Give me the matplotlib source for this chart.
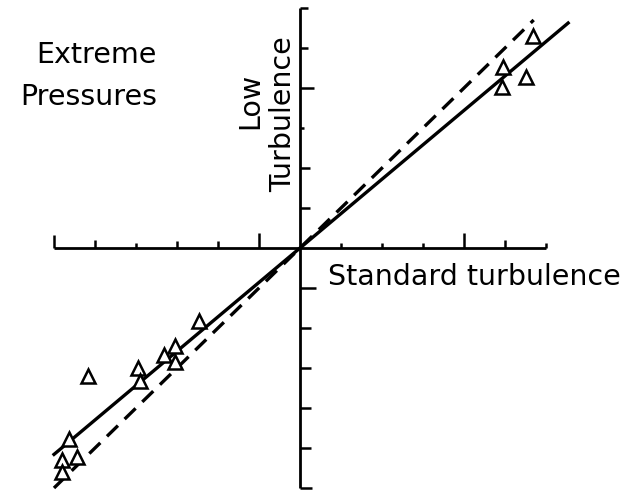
import numpy as np
import matplotlib
matplotlib.use("Agg")
import matplotlib.pyplot as plt

# measured points (standard turbulence vs low turbulence, extreme pressures)
std_turb = [-2.46, -3.05, -3.32, -3.05, -3.95, -3.90, -5.17, -5.63, -5.44, -5.80, -5.80,
            5.68, 4.95, 5.51, 4.93]
low_turb = [-1.83, -2.45, -2.68, -2.85, -3.00, -3.33, -3.20, -4.78, -5.23, -5.30, -5.60,
            5.30, 4.53, 4.28, 4.03]

# fitted line and line of equality
fit_x = [-6.0, 6.54]
fit_slope = 0.86
equal_x = [-6.0, 5.7]

tick_vals = [-6, -5, -4, -3, -2, -1, 1, 2, 3, 4, 5, 6]

fig = plt.figure(figsize=(6.35, 4.94), dpi=100)
ax = fig.add_axes([0, 0, 1, 1])
ax.set_xlim(-300 / 41, 335 / 41)
ax.set_ylim(-246 / 40, 248 / 40)
ax.axis("off")

# pixel -> data helpers for tick lengths
px_x = 1 / 41
px_y = 1 / 40

# axes through origin
ax.plot([-6, 6], [0, 0], color="black", lw=2.0, solid_capstyle="butt")
ax.plot([0, 0], [-6, 6], color="black", lw=2.0, solid_capstyle="butt")

xtick_len = [13, 8, 5, 7, 7, 15, 5, 5, 5, 15, 8, 5]
ytick_len = [12, 11, 11, 11, 11, 16, 10, 10, 4, 14, 8, 8]
for v, L in zip(tick_vals, xtick_len):
    ax.plot([v, v], [0, L * px_y], color="black", lw=1.8, solid_capstyle="butt")
for v, L in zip(tick_vals, ytick_len):
    ax.plot([0, L * px_x], [v, v], color="black", lw=1.8, solid_capstyle="butt")

ax.plot(fit_x, [fit_slope * x for x in fit_x], color="black", lw=2.4)
ax.plot(equal_x, equal_x, color="black", lw=2.4, dashes=(4.6, 2.8))

ax.plot(std_turb, low_turb, linestyle="none", marker="^", markersize=10,
        markerfacecolor="white", markeredgecolor="black", markeredgewidth=1.8)

fs = 20.5
ax.text(157 * px_x - 300 * px_x, (248 - 55) * px_y, "Extreme", ha="right", va="center", fontsize=fs)
ax.text(157 * px_x - 300 * px_x, (248 - 97) * px_y, "Pressures", ha="right", va="center", fontsize=fs)
ax.text((328 - 300) * px_x, (248 - 277) * px_y, "Standard turbulence", ha="left", va="center", fontsize=fs)
ax.text((250 - 300) * px_x, (248 - 101) * px_y, "Low", ha="center", va="center", rotation=90, fontsize=fs)
ax.text((283 - 300) * px_x, (248 - 114) * px_y, "Turbulence", ha="center", va="center", rotation=90, fontsize=fs)

fig.savefig("out.png", dpi=100)
